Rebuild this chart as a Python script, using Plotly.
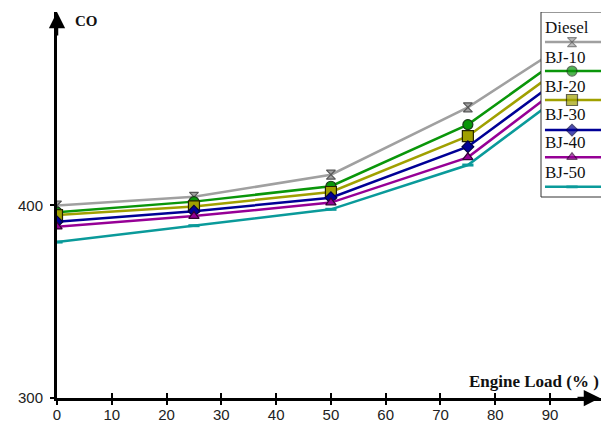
import plotly.graph_objects as go

# ---- data ----
loads = [0, 25, 50, 75, 100]
diesel = [400, 404.5, 416, 451, 497]
bj10 = [396.5, 402, 410, 442, 493]
bj20 = [395, 399.5, 407, 436, 488]
bj30 = [391.5, 397, 404, 430.5, 483]
bj40 = [389, 394.5, 401.5, 425, 479]
bj50 = [381, 389.5, 398, 421, 474]
series_names = ["Diesel", "BJ-10", "BJ-20", "BJ-30", "BJ-40", "BJ-50"]
x_ticks = [0, 10, 20, 30, 40, 50, 60, 70, 80, 90]
y_ticks = [300, 400]

# ---- styles ----
values = [diesel, bj10, bj20, bj30, bj40, bj50]
colors = ["#a0a0a0", "#0a960a", "#a0a000", "#000096", "#960096", "#0a9a9a"]
symbols = ["hourglass", "circle", "square", "diamond", "triangle-up", "line-ew"]
sizes = [9, 10, 11, 9, 9, 8]
outline = ["#555555", "#1a3a1a", "#222200", "#000044", "#330033", "#0a9a9a"]

fig = go.Figure()
for name, vals, c, s, sz, oc in zip(series_names, values, colors, symbols, sizes, outline):
    fig.add_trace(go.Scatter(
        x=loads, y=vals, mode="lines+markers", name=name,
        line=dict(color=c, width=2.5),
        marker=dict(symbol=s, size=sz, color=c, line=dict(color=oc, width=1.2 if s != "line-ew" else 3)),
        showlegend=False, xaxis="x", yaxis="y",
    ))

# ---- custom legend (overlay axes in 0..1 units) ----
box_x0, box_x1, box_y0, box_y1 = 0.8897, 1.03, 0.5207, 1.0
fig.add_trace(go.Scatter(
    x=[box_x0, box_x1, box_x1, box_x0, box_x0],
    y=[box_y0, box_y0, box_y1, box_y1, box_y0],
    mode="lines", fill="toself", fillcolor="white",
    line=dict(color="#333333", width=1), showlegend=False,
    xaxis="x3", yaxis="y3", hoverinfo="skip", cliponaxis=False,
))
line_y = [0.922, 0.847, 0.772, 0.694, 0.624, 0.547]
text_y = [0.960, 0.883, 0.808, 0.735, 0.661, 0.585]
for name, c, s, sz, oc, ly in zip(series_names, colors, symbols, sizes, outline, line_y):
    fig.add_trace(go.Scatter(
        x=[0.897, 0.9467, 1.01], y=[ly, ly, ly], mode="lines+markers",
        line=dict(color=c, width=2.5),
        marker=dict(symbol=s, size=[0, sz, 0], color=c,
                    line=dict(color=oc, width=1.2 if s != "line-ew" else 3)),
        showlegend=False, xaxis="x3", yaxis="y3", hoverinfo="skip", cliponaxis=False,
    ))

annotations = []
for name, ty in zip(series_names, text_y):
    annotations.append(dict(
        text=name, x=0.894, y=ty, xref="paper", yref="paper",
        xanchor="left", yanchor="middle", showarrow=False,
        font=dict(family="Liberation Serif", size=17, color="#111111"),
    ))

# axis titles
annotations.append(dict(text="<b>CO</b>", x=0.03, y=0.977, xref="paper", yref="paper",
                        xanchor="left", yanchor="middle", showarrow=False,
                        font=dict(family="Liberation Serif", size=15, color="#111111")))
annotations.append(dict(text="<b>Engine Load (% )</b>", x=1.0, y=0.042, xref="paper", yref="paper",
                        xanchor="right", yanchor="middle", showarrow=False,
                        font=dict(family="Liberation Serif", size=17, color="#111111")))
# axis arrowheads
annotations.append(dict(text="", x=0, y=1.0, xref="paper", yref="paper",
                        ax=0, ay=25, showarrow=True, arrowhead=2, arrowsize=1.3,
                        arrowwidth=2.5, arrowcolor="black"))
annotations.append(dict(text="", x=1.0, y=0, xref="paper", yref="paper",
                        ax=-25, ay=0, showarrow=True, arrowhead=2, arrowsize=1.3,
                        arrowwidth=2.5, arrowcolor="black"))

tick_font = dict(family="Liberation Sans", size=15, color="#222222")

fig.update_layout(
    width=601, height=426,
    margin=dict(l=57, r=0, t=12, b=28),
    paper_bgcolor="white", plot_bgcolor="white",
    xaxis=dict(range=[0, 99.3], tickvals=x_ticks, showgrid=False, zeroline=False,
               showline=True, linecolor="black", linewidth=3,
               ticks="outside", ticklen=4, tickwidth=1.5, tickcolor="black",
               tickfont=tick_font, ticklabelstandoff=-3),
    yaxis=dict(range=[300, 500.5], tickvals=y_ticks, showgrid=False, zeroline=False,
               showline=True, linecolor="black", linewidth=3,
               ticks="outside", ticklen=4, tickwidth=1.5, tickcolor="black",
               tickfont=tick_font, ticklabelstandoff=4),
    xaxis2=dict(overlaying="x", matches="x", anchor="y", ticks="inside", ticklen=5,
                tickwidth=1.5, tickcolor="black", tickvals=x_ticks, showticklabels=False,
                showgrid=False, zeroline=False, showline=False),
    xaxis3=dict(overlaying="x", range=[0, 1], visible=False, anchor="y3"),
    yaxis3=dict(overlaying="y", range=[0, 1], visible=False, anchor="x3"),
    annotations=annotations,
    showlegend=False,
)
# dummy trace to activate xaxis2 ticks
fig.add_trace(go.Scatter(x=[None], y=[None], xaxis="x2", yaxis="y", showlegend=False))

fig.write_html("out.html")
